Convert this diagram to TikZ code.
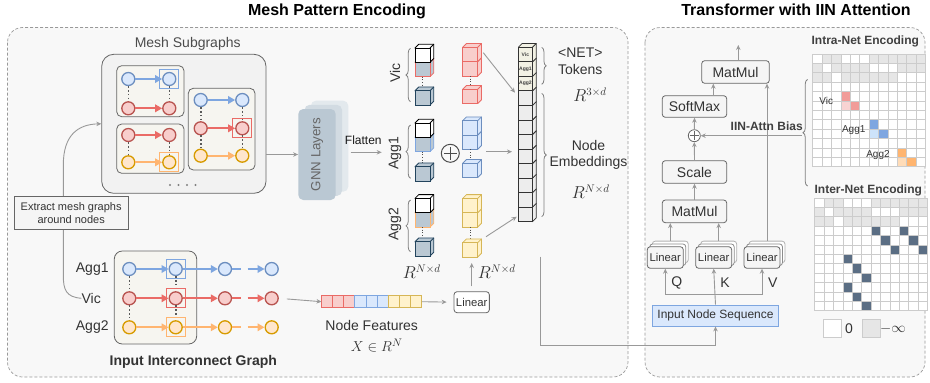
\documentclass[tikz,border=0pt]{standalone}
\usepackage{fontspec}
\setmainfont{Liberation Sans}
\usetikzlibrary{arrows.meta,calc,decorations.pathreplacing}
\newcommand\myfs[1]{\fontsize{#1}{#1}\selectfont}
\definecolor{bF}{HTML}{DAE8FC}\definecolor{bD}{HTML}{6C8EBF}\definecolor{bA}{HTML}{7EA6E0}
\definecolor{rF}{HTML}{F8CECC}\definecolor{rD}{HTML}{B85450}\definecolor{rA}{HTML}{EA6B66}
\definecolor{oF}{HTML}{FFE6CC}\definecolor{oD}{HTML}{D79B00}\definecolor{oA}{HTML}{FFB570}
\definecolor{yF}{HTML}{FFF2CC}\definecolor{yD}{HTML}{D6B656}
\definecolor{gF}{HTML}{BAC8D3}\definecolor{gD}{HTML}{23445D}
\definecolor{pan}{HTML}{F8F8F8}\definecolor{lg}{HTML}{999999}\definecolor{tx}{HTML}{333333}
\definecolor{cellg}{HTML}{E6E6E6}\definecolor{gridc}{HTML}{CCCCCC}\definecolor{slate}{HTML}{5B6E84}
\definecolor{boxf}{HTML}{F6F5F0}\definecolor{tokF}{HTML}{F2F1E4}\definecolor{nodF}{HTML}{EDEDED}
\definecolor{rM}{HTML}{F19C99}\definecolor{rL}{HTML}{F8D3D2}\definecolor{bM}{HTML}{7EA6E0}\definecolor{bL}{HTML}{CDE3FA}
\definecolor{oM}{HTML}{FFB570}\definecolor{oL}{HTML}{FFDCB8}
\newcommand\cubeat[6]{%
  \filldraw[fill=#5,draw=#6,line width=0.8pt,line join=round] (#1,#2) -- ++(3.8,-3.8) -- ++(#3,0) -- ++(0,#4) -- ++(-3.8,3.8) -- cycle;
  \draw[#6,line width=0.8pt] (#1+#3,#2) -- ++(3.8,-3.8);
  \filldraw[fill=#5,draw=#6,line width=0.8pt] (#1,#2) rectangle ++(#3,#4);}
\newcommand\stdcube[4]{\cubeat{#1}{#2}{15}{14.3}{#3}{#4}}
\tikzset{
 garr/.style={draw=lg,line width=0.9pt,-{Stealth[length=5pt,width=4.5pt]}},
 gn/.style={circle,minimum size=13pt,inner sep=0pt,line width=1.3pt},
 bnd/.style={gn,fill=bF,draw=bD}, rnd/.style={gn,fill=rF,draw=rD}, ynd/.style={gn,fill=oF,draw=oD},
 ea/.style={line width=1.7pt,-{Triangle[length=7pt,width=7.5pt]}},
 bea/.style={ea,draw=bA}, rea/.style={ea,draw=rA}, yea/.style={ea,draw=oA},
 dcon/.style={draw=black!65,line width=1.6pt,dash pattern=on 1.6pt off 2.2pt},
 hsq/.style={draw,rectangle,minimum size=19pt,inner sep=0pt,line width=1.1pt},
 ibox/.style={draw=black!60,fill=boxf,rounded corners=5pt,line width=0.8pt,inner sep=0pt},
 tbox/.style={draw=black!60,fill=black!4,rounded corners=3pt,line width=0.8pt,text=tx,font=\myfs{14},inner sep=0pt},
 lbl/.style={inner sep=0pt,text=tx},
 brc/.style={draw=black!50,line width=0.8pt,decorate,decoration={brace,amplitude=4.5pt}},
 pnl/.style={draw=black!40,fill=pan,dash pattern=on 3pt off 2pt,line width=0.7pt,rounded corners=15pt}
}
\newcommand\linstack[3]{%
  \node[tbox,minimum width=36pt,minimum height=21.6pt,fill=white,draw=black!30] (#1b) at (#2+5,#3-5.6) {};
  \node[tbox,minimum width=36pt,minimum height=21.6pt,fill=white,draw=black!45] at (#2+2.5,#3-2.8) {};
  \node[tbox,minimum width=36pt,minimum height=21.6pt,font=\myfs{11.3}] (#1) at (#2,#3) {Linear};}
\begin{document}
\begin{tikzpicture}[x=1pt,y=-1pt]
\useasboundingbox (0,0) rectangle (930,383);
% panels
\draw[pnl] (7.5,27.5) rectangle (628,377);
\draw[pnl] (645,27.5) rectangle (925,377);
\node[anchor=base,inner sep=0pt,font=\myfs{16}\bfseries] (t1) at (337,15) {Mesh Pattern Encoding};
\node[anchor=base,inner sep=0pt,font=\myfs{16}\bfseries] (t2) at (796,15) {Transformer with IIN Attention};

% ---------- Mesh subgraphs ----------
\node[lbl,text=black!70,font=\myfs{14}] (msl) at (187.7,44.3) {Mesh Subgraphs};
\node[draw=black!60,fill=black!5,rounded corners=12pt,line width=0.8pt,minimum width=164.3pt,minimum height=139pt,inner sep=0pt] (mesh) at (183.85,123.8) {};
\node[ibox,minimum width=67.3pt,minimum height=51pt] (bxA) at (150.35,91.2) {};
\node[ibox,minimum width=67.3pt,minimum height=49.3pt] (bxB) at (150.35,148.65) {};
\node[ibox,minimum width=66.7pt,minimum height=81.7pt] (bxC) at (221.65,129.15) {};
% box A
\node[bnd] (a1) at (128.3,79) {}; \node[bnd] (a2) at (169.3,79) {};
\node[rnd] (a3) at (128.3,108.3) {}; \node[rnd] (a4) at (169.3,108.3) {};
\draw[dcon] (a1) -- (a3); \draw[dcon] (a2) -- (a4);
\draw[bea] (a1) -- (a2); \draw[rea] (a3) -- (a4);
\node[hsq,draw=bA] (sqa) at (a2) {};
% box B
\node[rnd] (b1) at (128.3,135) {}; \node[rnd] (b2) at (169.3,135) {};
\node[ynd] (b3) at (128.3,162.3) {}; \node[ynd] (b4) at (169.3,162.3) {};
\draw[dcon] (b1) -- (b3); \draw[dcon] (b2) -- (b4);
\draw[rea] (b1) -- (b2); \draw[yea] (b3) -- (b4);
\node[hsq,draw=oA] (sqb) at (b4) {};
% box C
\node[bnd] (c1) at (200.7,100) {}; \node[bnd] (c2) at (242.3,100) {};
\node[rnd] (c3) at (200.7,128.3) {}; \node[rnd] (c4) at (242.3,128.3) {};
\node[ynd] (c5) at (200.7,155.7) {}; \node[ynd] (c6) at (242.3,155.7) {};
\draw[dcon] (c1) -- (c3); \draw[dcon] (c3) -- (c5); \draw[dcon] (c2) -- (c4); \draw[dcon] (c4) -- (c6);
\draw[bea] (c1) -- (c2); \draw[rea] (c3) -- (c4); \draw[yea] (c5) -- (c6);
\node[hsq,draw=rA] (sqc) at (c4) {};
\foreach \x in {170,178.5,187,195.5} \fill[black!50] (\x,185) circle (1.1pt);

% ---------- Input interconnect graph ----------
\node[ibox,rounded corners=8pt,minimum width=82.4pt,minimum height=93pt] (igb) at (155.5,297.5) {};
\node[lbl,anchor=east,font=\myfs{14}] (agg1l) at (108.8,269) {Agg1};
\node[lbl,anchor=east,font=\myfs{14}] (vicl) at (101,298.3) {Vic};
\node[lbl,anchor=east,font=\myfs{14}] (agg2l) at (108.8,327.3) {Agg2};
\node[bnd] (g11) at (129.3,269) {}; \node[bnd] (g12) at (175.7,269) {}; \node[bnd] (g13) at (225,269) {}; \node[bnd] (g14) at (271.7,269) {};
\node[rnd] (g21) at (129.3,298.3) {}; \node[rnd] (g22) at (175.7,298.3) {}; \node[rnd] (g23) at (225,298.3) {}; \node[rnd] (g24) at (271.7,298.3) {};
\node[ynd] (g31) at (129.3,327.3) {}; \node[ynd] (g32) at (175.7,327.3) {}; \node[ynd] (g33) at (225,327.3) {}; \node[ynd] (g34) at (271.7,327.3) {};
\draw[dcon] (g11) -- (g21); \draw[dcon] (g21) -- (g31); \draw[dcon] (g12) -- (g22); \draw[dcon] (g22) -- (g32);
\draw[bea] (g11) -- (g12); \draw[bea] (g12) -- (g13); \draw[line width=1.7pt,bA] (g13.east) -- ++(8.5,0); \draw[bea] ($(g14.west)+(-17,0)$) -- (g14.west);
\draw[rea] (g21) -- (g22); \draw[rea] (g22) -- (g23); \draw[line width=1.7pt,rA] (g23.east) -- ++(8.5,0); \draw[rea] ($(g24.west)+(-17,0)$) -- (g24.west);
\draw[yea] (g31) -- (g32); \draw[yea] (g32) -- (g33); \draw[line width=1.7pt,oA] (g33.east) -- ++(8.5,0); \draw[yea] ($(g34.west)+(-17,0)$) -- (g34.west);
\node[hsq,draw=bA] (sq1) at (g12) {}; \node[hsq,draw=rA] (sq2) at (g22) {}; \node[hsq,draw=oA] (sq3) at (g32) {};
\node[lbl,font=\myfs{14}\bfseries] (igl) at (193.3,362.3) {Input Interconnect Graph};

% curved connector + extract box
\draw[garr] (vicl.west) .. controls (66,297) and (63.3,290) .. (63.3,275) -- (63.3,165) .. controls (63.3,135) and (78,124.3) .. (mesh.west);
\node[draw=black!60,fill=black!4,line width=0.8pt,minimum width=114.3pt,minimum height=32.3pt,inner sep=0pt,align=center,font=\myfs{11},text=tx] (ext) at (71.15,212.85) {Extract mesh graphs\\[1.5pt]around nodes};

% ---------- GNN ----------
\node[fill=gF!40,rounded corners=5pt,minimum width=37.4pt,minimum height=91pt,inner sep=0pt] (gnnb) at (329.6,146.2) {};
\node[fill=gF!65,rounded corners=5pt,minimum width=37.4pt,minimum height=91pt,inner sep=0pt] (gnnm) at (323.3,150.35) {};
\node[fill=gF,rounded corners=5pt,minimum width=37.4pt,minimum height=91pt,inner sep=0pt] (gnn) at (317,154.5) {};
\node[lbl,rotate=90,text=black!60,font=\myfs{13.3}] (gnnl) at (gnn) {GNN Layers};
\draw[garr] (mesh.east |- gnn.west) -- (gnn.west);
\node[lbl,text=black!90,font=\myfs{12}] (flt) at (363.3,140) {Flatten};
\coordinate (fl1) at (350.7,152.3); \coordinate (fl2) at (381.7,152.3);
\draw[garr] (fl1) -- (fl2);

% ---------- cube columns ----------
\stdcube{415}{62.3}{gF}{rA}\stdcube{415}{48}{white}{black}
\draw[black!70,line width=0.7pt,dotted] (422.5,76.6) -- (422.5,90.7);
\stdcube{415}{90.7}{gF}{gD}
\stdcube{415}{137.3}{gF}{bA}\stdcube{415}{123}{white}{black}
\draw[black!70,line width=0.7pt,dotted] (422.5,151.6) -- (422.5,166.7);
\stdcube{415}{166.7}{gF}{gD}
\stdcube{415}{212.7}{gF}{oA}\stdcube{415}{198.4}{white}{black}
\draw[black!70,line width=0.7pt,dotted] (422.5,227) -- (422.5,241.7);
\stdcube{415}{241.7}{gF}{gD}
\draw[brc] (410.5,101.7) -- (410.5,48.3);
\draw[brc] (410.5,178.3) -- (410.5,125);
\draw[brc] (410.5,251.7) -- (410.5,200);
\node[lbl,rotate=90,font=\myfs{14}] (vl) at (395,73.3) {Vic};
\node[lbl,rotate=90,font=\myfs{14}] (a1l) at (395,153) {Agg1};
\node[lbl,rotate=90,font=\myfs{14}] (a2l) at (395,224) {Agg2};
% oplus
\node[circle,draw=black!70,line width=1pt,minimum size=18pt,inner sep=0pt] (opl) at (450.3,153.3) {};
\draw[black!70,line width=1pt] ($(opl.west)+(3,0)$) -- ($(opl.east)+(-3,0)$) ($(opl.north)+(0,3)$) -- ($(opl.south)+(0,-3)$);
% colored columns
\stdcube{462.7}{61.7}{rF}{rA}\stdcube{462.7}{47.3}{rF}{rA}
\draw[black!70,line width=0.7pt,dotted] (470.2,76) -- (470.2,89.3);
\stdcube{462.7}{89.3}{rF}{rA}
\stdcube{462.7}{135}{bF}{bD}\stdcube{462.7}{120.7}{bF}{bD}
\draw[black!70,line width=0.7pt,dotted] (470.2,149.3) -- (470.2,163.3);
\stdcube{462.7}{163.3}{bF}{bD}
\stdcube{462.7}{212.7}{yF}{yD}\stdcube{462.7}{198.4}{yF}{yD}
\draw[black!70,line width=0.7pt,dotted] (470.2,227) -- (470.2,242.7);
\stdcube{462.7}{242.7}{yF}{yD}
% token column
\foreach \i in {11,10,...,0}{%
  \pgfmathsetmacro\yy{47.3+\i*14.53}%
  \ifnum\i<3 \cubeat{518.3}{\yy}{14.2}{14.53}{tokF}{black!80}\else\cubeat{518.3}{\yy}{14.2}{14.53}{nodF}{black!80}\fi}
\node[lbl,font=\myfs{5}\bfseries,text=black!75] (tv) at (525.4,54.6) {Vic};
\node[lbl,font=\myfs{5}\bfseries,text=black!75] (ta1) at (525.4,69.1) {Agg1};
\node[lbl,font=\myfs{5}\bfseries,text=black!75] (ta2) at (525.4,83.6) {Agg2};
\coordinate (rs) at (483.3,52.7); \coordinate (re) at (515,92.7);
\coordinate (bs) at (486,151.7); \coordinate (be) at (512,151.7);
\coordinate (ys) at (486,236.7); \coordinate (ye) at (516.7,216.7);
\draw[garr] (rs) -- (re); \draw[garr] (bs) -- (be); \draw[garr] (ys) -- (ye);
\draw[brc] (541.7,47.3) -- (541.7,84.3);
\draw[brc] (541.7,93.3) -- (541.7,216.7);
\node[lbl,font=\myfs{14}] (netl) at (580.3,52.7) {<NET>};
\node[lbl,font=\myfs{14}] (tokl) at (580.3,69.3) {Tokens};
\node[lbl,font=\myfs{16}] (r3d) at (590,95) {$R^{3\times d}$};
\node[lbl,font=\myfs{14}] (nodl) at (588.5,145) {Node};
\node[lbl,font=\myfs{14}] (embl) at (588.5,162.7) {Embeddings};
\node[lbl,font=\myfs{16}] (rnd1) at (590.8,191.7) {$R^{N\times d}$};

% ---------- node features ----------
\node[minimum width=100pt,minimum height=11.3pt,inner sep=0pt] (bar) at (371.7,301.7) {};
\foreach \i/\f/\d in {0/rF/rA,1/rF/rA,2/rF/rA,3/bF/bA,4/bF/bA,5/bF/bA,6/yF/yD,7/yF/yD,8/yF/yD}
  \draw[fill=\f,draw=\d,line width=0.8pt] ($(bar.north west)+(\i*11.11,0)$) rectangle ++(11.11,11.3);
\draw[garr,shorten <=8pt] (g24.east) -- (bar.west);
\node[tbox,fill=white,minimum width=35.3pt,minimum height=21pt,font=\myfs{11.3}] (lin) at (471.7,302.2) {Linear};
\draw[garr,shorten >=7pt] (bar.east) -- (lin.west);
\coordinate (ycb) at (471.7,257);
\draw[garr,shorten <=5pt,shorten >=6pt] (lin.north) -- (ycb);
\node[lbl,font=\myfs{16}] (rnd2) at (421.7,271.7) {$R^{N\times d}$};
\node[lbl,font=\myfs{16}] (rnd3) at (496.7,271.7) {$R^{N\times d}$};
\node[lbl,font=\myfs{14}] (nfl) at (371.7,325.8) {Node Features};
\node[lbl,font=\myfs{15.5}] (xrl) at (376.7,345.5) {$X\in R^N$};

% ---------- transformer ----------
\node[tbox,minimum width=67.6pt,minimum height=22.6pt] (mm2) at (735.5,72) {MatMul};
\node[tbox,minimum width=64.4pt,minimum height=21.6pt] (sm) at (694.5,106.5) {SoftMax};
\node[circle,draw=black!60,fill=white,line width=0.8pt,minimum size=12pt,inner sep=0pt] (op) at (694.3,135.7) {};
\draw[black!60,line width=0.8pt] ($(op.west)+(2,0)$) -- ($(op.east)+(-2,0)$) ($(op.north)+(0,2)$) -- ($(op.south)+(0,-2)$);
\node[tbox,minimum width=64.4pt,minimum height=22.6pt] (sc) at (694.5,172) {Scale};
\node[tbox,minimum width=64.4pt,minimum height=22.7pt] (mm1) at (694.5,211.35) {MatMul};
\linstack{lq}{665.3}{257.5}
\linstack{lk}{713.7}{257.5}
\linstack{lv}{762}{257.5}
\node[draw=bA,fill=bF,line width=0.8pt,minimum width=125.6pt,minimum height=21pt,inner sep=0pt,font=\myfs{12},text=tx] (ins) at (715.5,315.5) {Input Node Sequence};
\coordinate (out) at (738.3,45);
\draw[garr] (mm2.north -| out) -- (out);
\coordinate (smx) at (713.3,0);
\draw[garr] (sm.north -| smx) -- (mm2.south -| smx);
\draw[garr] (op.north) -- (sm.south);
\draw[garr] (sc.north) -- (op.south);
\draw[garr] (mm1.north) -- (sc.south);
\draw[garr] (lqb.north) -- (lqb.north |- mm1.south);
\draw[garr] (lkb.north) -- (lkb.north |- mm1.south);
\draw[garr] (lvb.north) -- (lvb.north |- mm2.south);
\coordinate (bus) at ($(ins.north)+(0,-10)$);
\draw[garr] (ins.north) -- (lk.south);
\draw[garr] (bus) -| (lq.south);
\draw[garr] (bus) -| (lv.south);
\node[lbl,font=\myfs{14}] (ql) at (676.7,282.7) {Q};
\node[lbl,font=\myfs{14}] (kl) at (725,282.7) {K};
\node[lbl,font=\myfs{14}] (vvl) at (772.7,282.7) {V};
\coordinate (nstart) at (540,256.7); \coordinate (nb) at (540,345.7);
\draw[garr] (nstart) -- (nb) -| (ins.south);
% bias brace
\draw[brc] (807.5,186) -- (807.5,79.5);
\coordinate (bt) at (802,135.7);
\draw[garr] (bt) -- (op.east);
\node[lbl,font=\myfs{12}\bfseries,text=black!75] (iinl) at (766.7,126) {IIN-Attn Bias};

% ---------- matrices ----------
\node[lbl,font=\myfs{12}\bfseries,text=black!75] (intral) at (865.3,41) {Intra-Net Encoding};
\node[lbl,font=\myfs{12}\bfseries,text=black!75] (interl) at (868.3,190) {Inter-Net Encoding};
\begin{scope}[shift={(812.7,54)},x=9.4pt,y=-9.4pt]
  \fill[white] (0,0) rectangle (12,12);
  \foreach \r/\c in {0/1,0/2,0/6,0/7,0/8,0/9,0/10,0/11,1/0,1/2,1/3,1/4,1/5,1/9,1/10,1/11,2/0,2/1,2/3,2/4,2/5,2/6,2/7,2/8}
    \fill[cellg] (\c,\r) rectangle ++(1,1);
  \fill[rM] (3,4) rectangle ++(1,1); \fill[rL] (3,5) rectangle ++(1,1); \fill[rM] (4,5) rectangle ++(1,1);
  \fill[bM] (6,7) rectangle ++(1,1); \fill[bL] (6,8) rectangle ++(1,1); \fill[bM] (7,8) rectangle ++(1,1);
  \fill[oM] (9,10) rectangle ++(1,1); \fill[oL] (9,11) rectangle ++(1,1); \fill[oM] (10,11) rectangle ++(1,1);
  \foreach \i in {0,...,12} {\draw[gridc,line width=0.7pt] (\i,0) -- (\i,12); \draw[gridc,line width=0.7pt] (0,\i) -- (12,\i);}
\end{scope}
\node[lbl,font=\myfs{10}] (mv) at (826.3,101) {Vic};
\node[lbl,font=\myfs{10}] (ma1) at (853.7,130) {Agg1};
\node[lbl,font=\myfs{10}] (ma2) at (878,155) {Agg2};
\begin{scope}[shift={(814.7,198)},x=9.4pt,y=-9.4pt]
  \fill[white] (0,0) rectangle (12,12);
  \foreach \r/\c in {0/1,0/2,0/6,0/7,0/8,0/9,0/10,0/11,1/0,1/2,1/3,1/4,1/5,1/9,1/10,1/11,2/0,2/1,2/3,2/4,2/5,2/6,2/7,2/8}
    \fill[cellg] (\c,\r) rectangle ++(1,1);
  \foreach \c/\r in {6/3,9/3,7/4,10/4,8/5,11/5,3/6,4/7,5/8,3/9,4/10,5/11}
    \fill[slate] (\c,\r) rectangle ++(1,1);
  \foreach \i in {0,...,12} {\draw[gridc,line width=0.7pt] (\i,0) -- (\i,12); \draw[gridc,line width=0.7pt] (0,\i) -- (12,\i);}
\end{scope}
\draw[gridc,fill=white,line width=0.8pt] (823.3,319.3) rectangle (841,337.7);
\node[lbl,font=\myfs{14}] (zl) at (849,328.5) {0};
\draw[gridc,fill=cellg,line width=0.8pt] (862.3,319.3) rectangle (880,337.7);
\node[lbl,font=\myfs{15}] (infl) at (893,328.5) {$-\infty$};
\end{tikzpicture}
\end{document}
